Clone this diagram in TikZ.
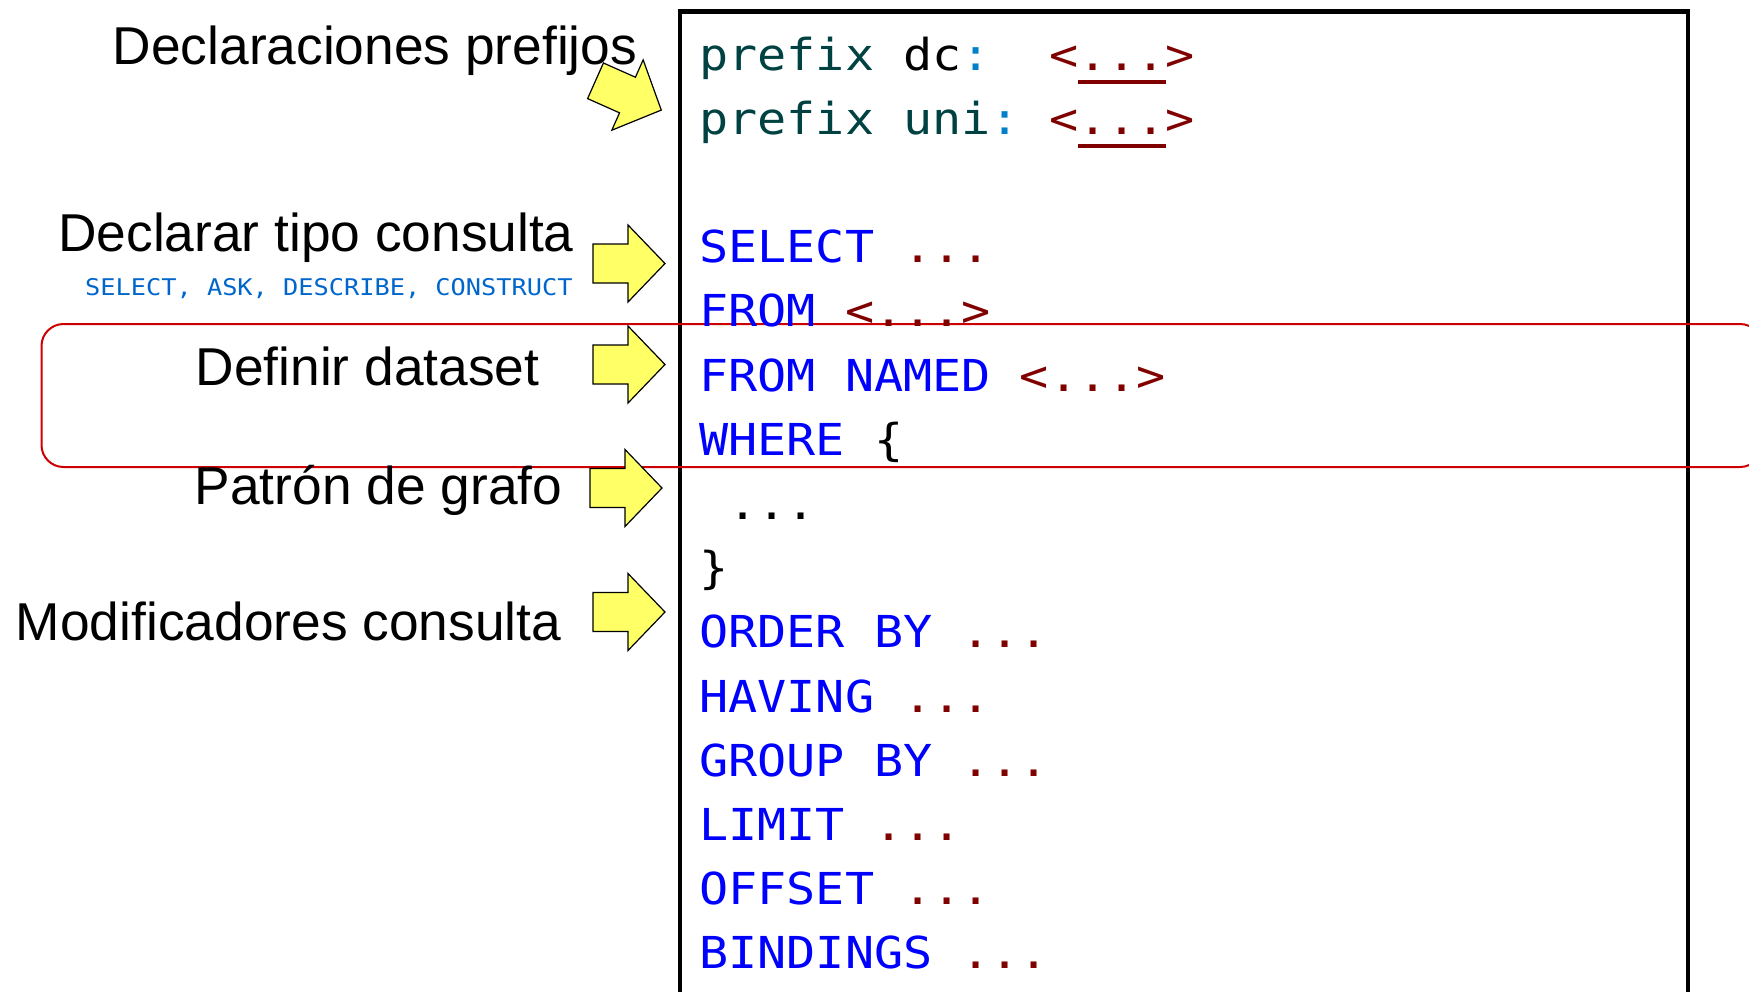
\documentclass[tikz,border=0pt]{standalone}
\usepackage{fontspec}
\setmainfont{Liberation Sans}
\newfontfamily\codefont[FakeStretch=1.1]{DejaVu Sans Mono}

\definecolor{kw}{RGB}{0,0,255}
\definecolor{lit}{RGB}{128,0,0}
\definecolor{pfx}{RGB}{0,66,66}
\definecolor{colon}{RGB}{0,128,200}
\definecolor{kwsmall}{RGB}{0,102,204}
\definecolor{note}{RGB}{255,255,102}
\definecolor{frame}{RGB}{204,0,0}

% underlined IRI placeholder
\newcommand\iriul[1]{\setbox0\hbox{#1}\rlap{\raisebox{-6.85pt}{\color{lit}\rule{\wd0}{2pt}}}\box0}
\newcommand\kw[1]{\textcolor{kw}{#1}}
\newcommand\lt[1]{\textcolor{lit}{#1}}

\tikzset{
  lbl/.style={font=\fontsize{26.65pt}{30pt}\selectfont, inner sep=0pt, anchor=base},
  hint/.style={font=\codefont\fontsize{11.5pt}{13pt}\selectfont, text=kwsmall, inner sep=0pt, anchor=base east},
  codeline/.style={font=\codefont\fontsize{22pt}{26pt}\selectfont, inner sep=0pt, anchor=base west},
  yarrowstyle/.style={fill=note, draw=black, line width=0.6pt, line join=miter},
  blockarrow/.pic={\draw[yarrowstyle] (0,-19.5) -- (35,-19.5) -- (35,-38.5) -- (72,0) -- (35,38.5) -- (35,19.5) -- (0,19.5) -- cycle;}
}

\begin{document}
\begin{tikzpicture}[x=0.5pt, y=-0.5pt]
\useasboundingbox (0,0) rectangle (1749,991);
\clip (0,0) rectangle (1749,991);

% query frame
\draw[line width=2.35pt] (680,1010) |- (1688,11.5) -- (1688,1010);

% highlighted dataset section
\draw[frame, line width=1pt, rounded corners=11pt] (41.5,324) rectangle (1762,467);

% left-hand labels
\node[lbl] (lprefix) at (375,64) {Declaraciones prefijos};
\node[lbl] (ltype) at (316,251) {Declarar tipo consulta};
\node[hint] (ltypes) at (573,295) {SELECT, ASK, DESCRIBE, CONSTRUCT};
\node[lbl] (ldataset) at (367.5,385) {Definir dataset};
\node[lbl] (lpattern) at (378.5,504) {Patrón de grafo};
\node[lbl] (lmods) at (288.5,640) {Modificadores consulta};

% pointer arrows
\pic[rotate=-24] at (595.5,80.8) {blockarrow};
\pic at (593,263.5) {blockarrow};
\pic at (593,364.5) {blockarrow};
\pic at (590,488) {blockarrow};
\pic at (593,612) {blockarrow};

% query skeleton
\node[codeline] (c0) at (699,70) {\textcolor{pfx}{prefix} dc\textcolor{colon}{:}~~\lt{<\iriul{...}>}};
\node[codeline] (c1) at (699,134.2) {\textcolor{pfx}{prefix uni}\textcolor{colon}{:}~\lt{<\iriul{...}>}};
\node[codeline] (c3) at (699,262.6) {\kw{SELECT}~\lt{...}};
\node[codeline] (c4) at (699,326.8) {\kw{FROM}~\lt{<...>}};
\node[codeline] (c5) at (699,391) {\kw{FROM NAMED}~\lt{<...>}};
\node[codeline] (c6) at (699,455.2) {\kw{WHERE}~\{};
\node[codeline] (c7) at (699,519.4) {~...};
\node[codeline] (c8) at (699,583.6) {\}};
\node[codeline] (c9) at (699,647.8) {\kw{ORDER BY}~\lt{...}};
\node[codeline] (c10) at (699,712) {\kw{HAVING}~\lt{...}};
\node[codeline] (c11) at (699,776.2) {\kw{GROUP BY}~\lt{...}};
\node[codeline] (c12) at (699,840.4) {\kw{LIMIT}~\lt{...}};
\node[codeline] (c13) at (699,904.6) {\kw{OFFSET}~\lt{...}};
\node[codeline] (c14) at (699,968.8) {\kw{BINDINGS}~\lt{...}};
\end{tikzpicture}
\end{document}
